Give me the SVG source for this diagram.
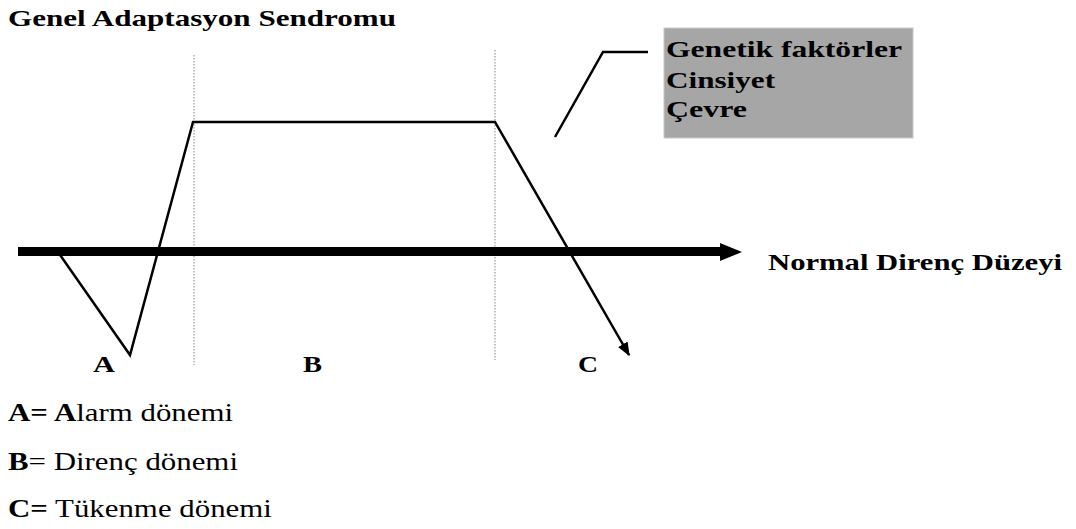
<svg xmlns="http://www.w3.org/2000/svg" width="1076" height="529" viewBox="0 0 1076 529">
<style>
text{font-family:"Liberation Serif","Times New Roman",serif;fill:#000}
.b{font-weight:bold;font-size:24px}
.r{font-size:25px}
.ln{fill:none;stroke:#000;stroke-width:2.5;stroke-linejoin:miter}
.dot{stroke:#9a9a9a;stroke-width:1.2;stroke-dasharray:1.5 1.5}
</style>
<defs>
<marker id="ah" viewBox="0 0 10 10" refX="9" refY="5" markerWidth="5.5" markerHeight="5.5" orient="auto" markerUnits="strokeWidth">
<path d="M0,1 L10,5 L0,9 Z" fill="#000"/>
</marker>
</defs>
<rect width="1076" height="529" fill="#fff"/>
<g id="title"><text class="b" x="8" y="26" textLength="388" lengthAdjust="spacingAndGlyphs">Genel Adaptasyon Sendromu</text></g>
<g id="factors">
<rect x="664" y="28" width="249" height="110" fill="#a6a6a6" stroke="#c8c8c8" stroke-width="1"/>
<text class="b" x="666" y="57" textLength="236" lengthAdjust="spacingAndGlyphs">Genetik faktörler</text>
<text class="b" x="666" y="88" textLength="109" lengthAdjust="spacingAndGlyphs">Cinsiyet</text>
<text class="b" x="666" y="117" textLength="81" lengthAdjust="spacingAndGlyphs">Çevre</text>
</g>
<g id="connectors">
<line class="dot" x1="194" y1="55" x2="194" y2="365"/>
<line class="dot" x1="495" y1="50" x2="495" y2="360"/>
<rect x="18" y="247" width="704" height="9" fill="#000"/>
<polygon points="720,243 742,252 720,261" fill="#000"/>
<polyline class="ln" points="58,252 130,355 193,122 495,122 629,355" marker-end="url(#ah)"/>
<polyline class="ln" points="555,137 603,52 648,52"/>
</g>
<g id="axis-label"><text class="b" x="768" y="270" textLength="294" lengthAdjust="spacingAndGlyphs">Normal Direnç Düzeyi</text></g>
<g id="phase-labels">
<text class="b" x="93" y="372" textLength="22" lengthAdjust="spacingAndGlyphs">A</text>
<text class="b" x="303" y="372" textLength="19" lengthAdjust="spacingAndGlyphs">B</text>
<text class="b" x="578" y="372" textLength="20" lengthAdjust="spacingAndGlyphs">C</text>
</g>
<g id="legend">
<text class="r" transform="translate(8 421) scale(1.235 1)"><tspan font-weight="bold">A= A</tspan>larm dönemi</text>
<text class="r" transform="translate(8 470) scale(1.235 1)"><tspan font-weight="bold">B</tspan>= Direnç dönemi</text>
<text class="r" transform="translate(8 517) scale(1.235 1)"><tspan font-weight="bold">C=</tspan> Tükenme dönemi</text>
</g>
</svg>
